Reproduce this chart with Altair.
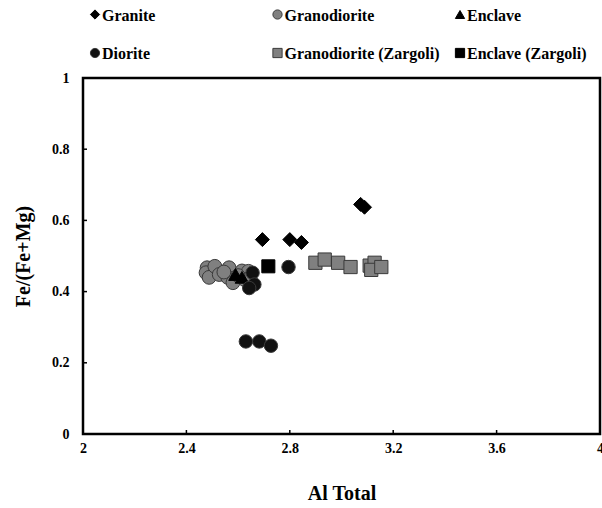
import altair as alt
import pandas as pd

# ---- data ----
granite_x = [2.694, 2.80, 2.845, 3.074, 3.089]
granite_y = [0.546, 0.546, 0.538, 0.645, 0.637]

granodiorite_x = [2.48, 2.476, 2.488, 2.51, 2.527, 2.565, 2.56, 2.58, 2.615, 2.64, 2.625, 2.545, 2.60]
granodiorite_y = [0.467, 0.453, 0.44, 0.471, 0.448, 0.467, 0.44, 0.425, 0.458, 0.457, 0.434, 0.455, 0.445]

enclave_x = [2.59, 2.615]
enclave_y = [0.448, 0.44]

diorite_x = [2.656, 2.663, 2.643, 2.795, 2.63, 2.682, 2.727]
diorite_y = [0.453, 0.42, 0.41, 0.469, 0.26, 0.26, 0.248]

grano_zargoli_x = [2.899, 2.935, 2.987, 3.035, 3.109, 3.128, 3.115, 3.154]
grano_zargoli_y = [0.481, 0.49, 0.481, 0.469, 0.473, 0.481, 0.461, 0.469]

enclave_zargoli_x = [2.717]
enclave_zargoli_y = [0.471]

categories = ["Granite", "Granodiorite", "Enclave", "Diorite",
              "Granodiorite (Zargoli)", "Enclave (Zargoli)"]
shapes = ["diamond", "circle", "triangle-up", "circle", "square", "square"]
fills = ["#000000", "#808080", "#000000", "#111111", "#808080", "#000000"]
strokes = ["#000000", "#3a3a3a", "#000000", "#3a3a3a", "#3a3a3a", "#000000"]
sizes = [196, 170, 190, 165, 140, 140]

x_ticks = [2, 2.4, 2.8, 3.2, 3.6, 4]
y_ticks = [0, 0.2, 0.4, 0.6, 0.8, 1]

# draw order (first drawn at bottom)
series = [
    ("Granodiorite", granodiorite_x, granodiorite_y),
    ("Granodiorite (Zargoli)", grano_zargoli_x, grano_zargoli_y),
    ("Enclave", enclave_x, enclave_y),
    ("Diorite", diorite_x, diorite_y),
    ("Enclave (Zargoli)", enclave_zargoli_x, enclave_zargoli_y),
    ("Granite", granite_x, granite_y),
]
rows = []
for name, xs, ys in series:
    for a, b in zip(xs, ys):
        rows.append({"Rock": name, "Al": a, "FeMg": b})
df = pd.DataFrame(rows)

# legend table: 3 columns x 2 rows, row-major in category order
legend_df = pd.DataFrame({
    "Rock": categories,
    "col": [i % 3 for i in range(len(categories))],
    "row": [i // 3 for i in range(len(categories))],
})
xt_df = pd.DataFrame({"Al": x_ticks})
yt_df = pd.DataFrame({"FeMg": y_ticks})

FONT = "Liberation Serif"
W, H = 517, 356

x_scale = alt.Scale(domain=[2, 4], nice=False, zero=False)
y_scale = alt.Scale(domain=[0, 1], nice=False)
shape_scale = alt.Scale(domain=categories, range=shapes)
fill_scale = alt.Scale(domain=categories, range=fills)
stroke_scale = alt.Scale(domain=categories, range=strokes)

x_axis = alt.Axis(title="Al Total", values=x_ticks, format="~g", grid=False,
                  domain=False, ticks=False, labelPadding=7,
                  labelFont=FONT, labelFontSize=14, labelFontWeight="bold",
                  labelColor="#000", titleFont=FONT, titleFontSize=20,
                  titleFontWeight="bold", titleColor="#000", titlePadding=28,
                  labelFlush=False, labelOverlap=False)
y_axis = alt.Axis(title="Fe/(Fe+Mg)", values=y_ticks, format="~g", grid=False,
                  domain=False, ticks=False, labelPadding=14,
                  labelFont=FONT, labelFontSize=14, labelFontWeight="bold",
                  labelColor="#000", titleFont=FONT, titleFontSize=20,
                  titleFontWeight="bold", titleColor="#000", titlePadding=18,
                  labelFlush=False, labelOverlap=False)

points = alt.Chart(df).mark_point(filled=True, opacity=1, strokeWidth=1).encode(
    x=alt.X("Al:Q", scale=x_scale, axis=x_axis),
    y=alt.Y("FeMg:Q", scale=y_scale, axis=y_axis),
    shape=alt.Shape("Rock:N", scale=shape_scale, legend=None),
    fill=alt.Fill("Rock:N", scale=fill_scale, legend=None),
    stroke=alt.Stroke("Rock:N", scale=stroke_scale, legend=None),
    size=alt.Size("Rock:N", scale=alt.Scale(domain=categories, range=sizes), legend=None),
)

# inward tick marks (share the main scales and axes)
x_tick_marks = alt.Chart(xt_df).mark_rule(color="#000", strokeWidth=1.5).encode(
    x=alt.X("Al:Q", scale=x_scale, axis=x_axis),
    y=alt.value(H), y2=alt.value(H - 4),
)
y_tick_marks = alt.Chart(yt_df).mark_rule(color="#000", strokeWidth=1.5).encode(
    y=alt.Y("FeMg:Q", scale=y_scale, axis=y_axis),
    x=alt.value(0), x2=alt.value(4),
)

main = alt.layer(points, x_tick_marks, y_tick_marks)

# custom legend above the plot
leg_x = alt.X("col:O", axis=None, scale=alt.Scale(type="point", range=[12, 377], padding=0))
leg_y = alt.Y("row:O", axis=None, scale=alt.Scale(type="point", range=[-63.5, -25], padding=0))

leg_pts = alt.Chart(legend_df).mark_point(filled=True, opacity=1, strokeWidth=1, size=85).encode(
    x=leg_x, y=leg_y,
    shape=alt.Shape("Rock:N", scale=shape_scale, legend=None),
    fill=alt.Fill("Rock:N", scale=fill_scale, legend=None),
    stroke=alt.Stroke("Rock:N", scale=stroke_scale, legend=None),
)
leg_txt = alt.Chart(legend_df).mark_text(
    align="left", baseline="middle", dx=7, dy=1, font=FONT, fontSize=16,
    fontWeight="bold", color="#000",
).encode(x=leg_x, y=leg_y, text="Rock:N")

leg = alt.layer(leg_pts, leg_txt)

chart = alt.layer(main, leg).resolve_scale(x="independent", y="independent").properties(
    width=W, height=H,
    autosize=alt.AutoSizeParams(type="none"),
    padding={"left": 83, "top": 78, "right": 2, "bottom": 74},
    background="white",
).configure_view(stroke="#000", strokeWidth=2.5)

chart.save("out.html", embed_options={"renderer": "svg", "actions": False})
